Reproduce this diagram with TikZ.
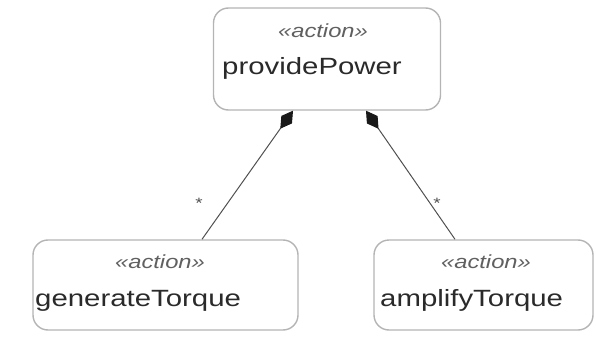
\documentclass[tikz,border=0pt]{standalone}
\usepackage{fontspec}
\usetikzlibrary{arrows.meta}
\newfontfamily\umlfont[FakeStretch=1.25]{Liberation Sans}
\definecolor{boxline}{HTML}{B4B4B4}
\definecolor{linkline}{HTML}{505050}
\definecolor{nametext}{HTML}{2A2A2A}
\definecolor{stereotext}{HTML}{606060}
\begin{document}
\begin{tikzpicture}[x=1pt, y=-1pt,
  actionbox/.style={draw=boxline, line width=1.4pt, rounded corners=15pt, fill=white, inner sep=0pt},
  stereo/.style={font=\umlfont\fontsize{19}{21}\selectfont\itshape, text=stereotext, inner sep=0pt, anchor=base},
  actname/.style={font=\umlfont\fontsize{23.5}{26}\selectfont, text=nametext, inner sep=0pt, anchor=base west},
  mult/.style={font=\umlfont\fontsize{15}{16}\selectfont, text=linkline, inner sep=0pt},
  composition/.style={draw=linkline, line width=1pt, -{Diamond[length=22pt, width=13pt, fill=black!90, color=black!90]}}
]
\useasboundingbox (0,0) rectangle (596,339);

% action boxes
\node[actionbox, minimum width=227pt, minimum height=102pt] (pp) at (327,59) {};
\node[actionbox, minimum width=265pt, minimum height=90pt] (gt) at (165.5,285) {};
\node[actionbox, minimum width=219pt, minimum height=90pt] (at) at (483.5,285) {};

% stereotypes and names
\node[stereo] (ppS) at (323,38) {«action»};
\node[actname] (ppN) at (222,75) {providePower};
\node[stereo] (gtS) at (160,268) {«action»};
\node[actname] (gtN) at (35,306) {generateTorque};
\node[stereo] (atS) at (486,268) {«action»};
\node[actname] (atN) at (380,306) {amplifyTorque};

% composition links
\draw[composition] ([xshift=36.5pt]gt.north) -- ([xshift=-34pt]pp.south);
\draw[composition] ([xshift=-28.5pt]at.north) -- ([xshift=39pt]pp.south);

% multiplicities
\node[mult] (gtM) at (199,203) {*};
\node[mult] (atM) at (437,203) {*};
\end{tikzpicture}
\end{document}
